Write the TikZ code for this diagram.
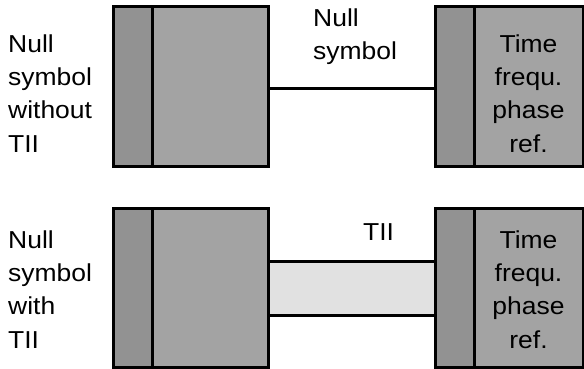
\documentclass[tikz,border=0pt]{standalone}
\usepackage{fontspec}
\setmainfont[FakeStretch=1.08]{Liberation Sans}
\usepackage{tikz}
\usetikzlibrary{positioning}

\definecolor{stripgray}{HTML}{929292}
\definecolor{boxgray}{HTML}{A3A3A3}
\definecolor{bandgray}{HTML}{E1E1E1}

\tikzset{
    frame/.style={draw, line width=3pt, inner sep=0pt, outer sep=0pt},
    strip/.style={frame, fill=stripgray, minimum width=39pt, minimum height=159pt},
    block/.style={frame, fill=boxgray, minimum height=159pt},
    lbl/.style={inner sep=0pt, font=\fontsize{24.5pt}{33.3pt}\selectfont}
}

\begin{document}
\begin{tikzpicture}[x=1pt, y=-1pt]
    \useasboundingbox (0,0) rectangle (584,369);

    % top row: null symbol without TII
    \node[lbl, align=left, anchor=base west] (side1) at (8,152) {Null\\symbol\\without\\TII};
    \coordinate (c1) at (0,89);
    \node[strip, anchor=north west] (s1) at (113,7) {};
    \node[block, minimum width=116pt, right=0pt of s1] (m1) {};
    \node[strip, anchor=north west] (s2) at (435,7) {};
    \node[block, minimum width=109pt, right=0pt of s2] (m2) {};
    \draw[line width=3pt] (m1.east |- c1) -- (s2.west |- c1);
    \node[lbl, align=left, anchor=base west] (null1) at (313,60) {Null\\symbol};
    \node[lbl, align=center, anchor=base] (ref1) at (528.5,152) {Time\\frequ.\\phase\\ref.};

    % bottom row: null symbol with TII
    \node[lbl, align=left, anchor=base west] (side2) at (8,348) {Null\\symbol\\with\\TII};
    \node[frame, fill=bandgray, minimum width=167pt, minimum height=54pt] (band) at (351.5,288) {};
    \node[strip, anchor=north west] (s3) at (113,208) {};
    \node[block, minimum width=116pt, right=0pt of s3] (m3) {};
    \node[strip, anchor=north west] (s4) at (435,208) {};
    \node[block, minimum width=109pt, right=0pt of s4] (m4) {};
    \node[lbl, anchor=base west] (tii) at (363,240) {TII};
    \node[lbl, align=center, anchor=base] (ref2) at (528.5,348) {Time\\frequ.\\phase\\ref.};
\end{tikzpicture}
\end{document}
